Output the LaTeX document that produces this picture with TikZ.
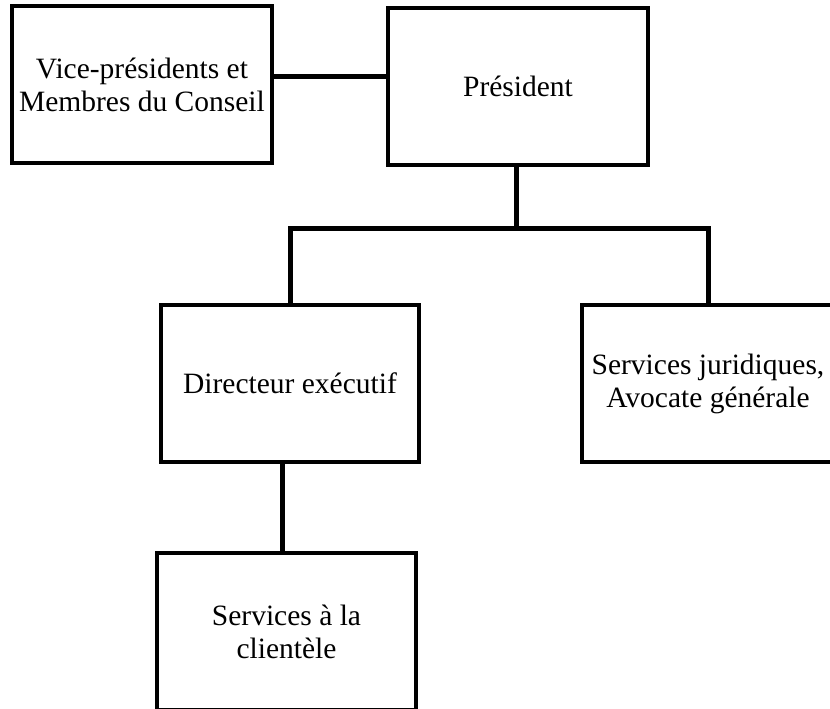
\documentclass[tikz,border=0pt]{standalone}
\usepackage{fontspec}
\setmainfont{Liberation Serif}
\begin{document}
\begin{tikzpicture}[x=1pt,y=-1pt,
  orgbox/.style={draw, line width=3.6pt, inner sep=0pt, align=center,
    font=\fontsize{29.5}{33}\selectfont},
  link/.style={line width=5pt}]
\useasboundingbox (0,0) rectangle (830,709);
\node[orgbox, minimum width=260pt, minimum height=157pt] (vp) at (142,84.5) {Vice-présidents et\\Membres du Conseil};
\node[orgbox, minimum width=260pt, minimum height=157pt] (pres) at (518,86.5) {\raisebox{-3pt}{Président}};
\node[orgbox, minimum width=258pt, minimum height=157pt] (dir) at (290,383.5) {Directeur exécutif};
\node[orgbox, minimum width=252pt, minimum height=157pt] (jur) at (708,383.5) {Services juridiques,\\Avocate générale};
\node[orgbox, minimum width=259pt, minimum height=157pt] (cli) at (286.5,631.5) {Services à la\\clientèle};
\coordinate (hvp) at (0,77);
\coordinate (junc) at (516,228);
\coordinate (dstem) at (282,0);
\draw[link] (vp.east |- hvp) -- (pres.west |- hvp);
\draw[link] (pres.south -| junc) -- (junc);
\draw[link] (dir.north) |- (junc) -| (jur.north);
\draw[link] (dir.south -| dstem) -- (cli.north -| dstem);
\end{tikzpicture}
\end{document}
